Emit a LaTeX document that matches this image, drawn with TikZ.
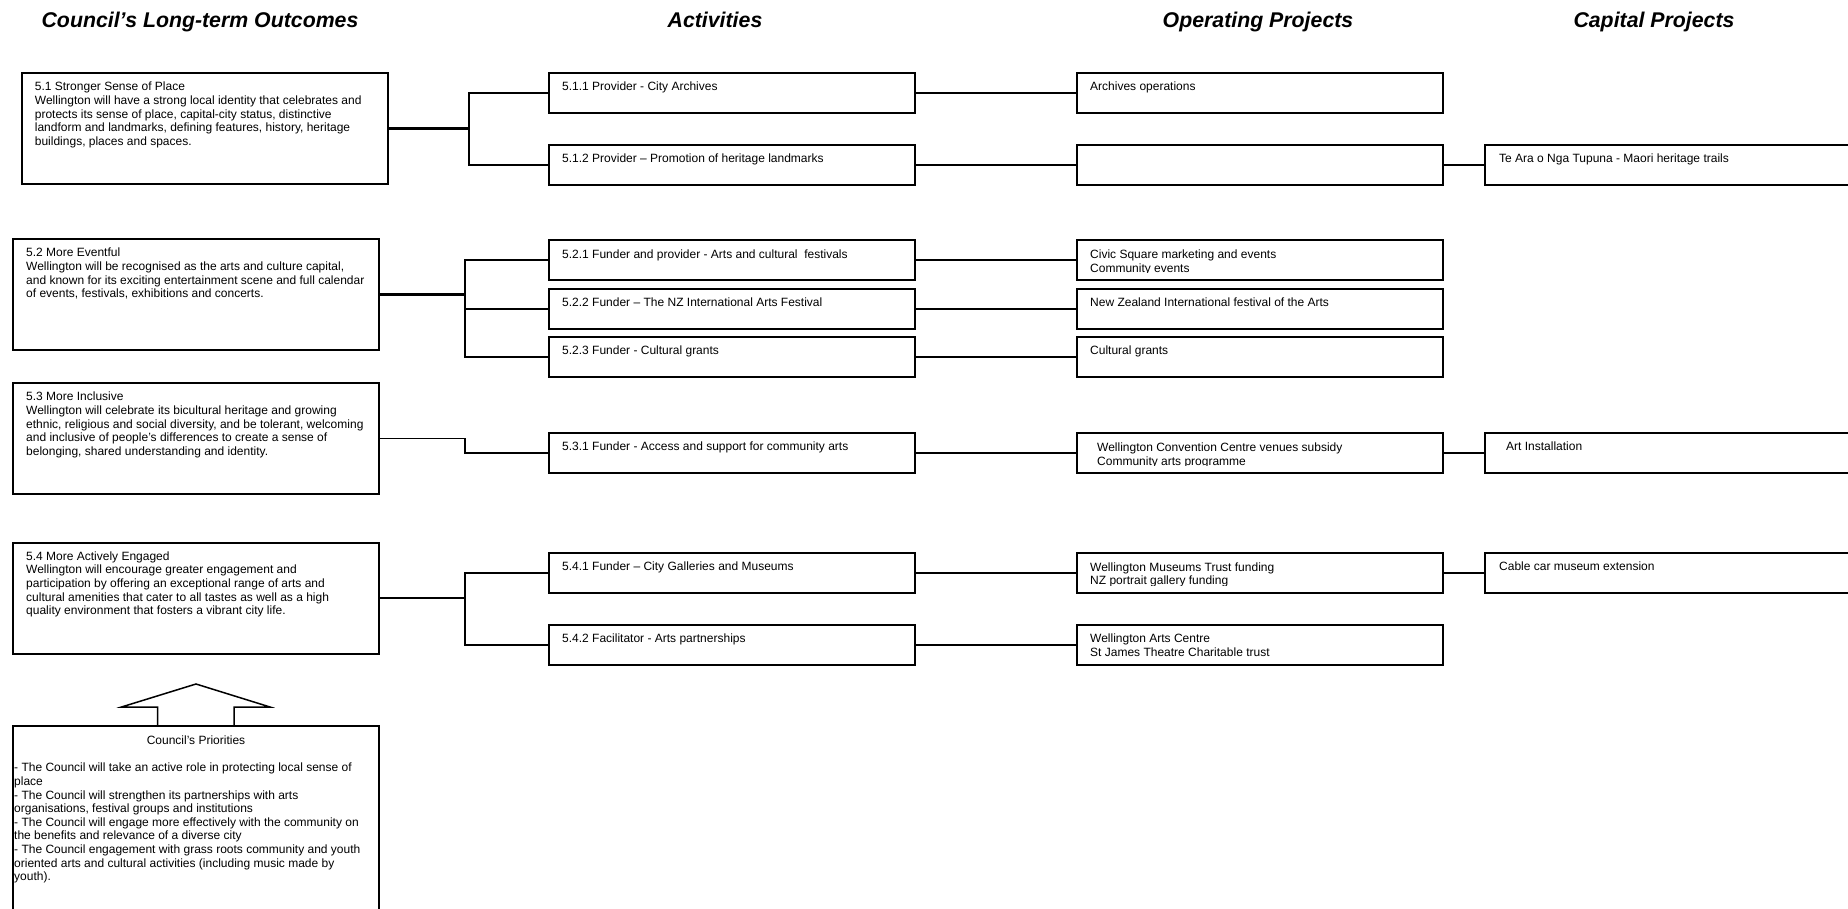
\documentclass[tikz,border=0pt]{standalone}
\usepackage{fontspec}
\setmainfont{Liberation Sans}

\begin{document}
\begin{tikzpicture}[x=1pt,y=1pt,
  box/.style={draw, line width=2pt, minimum width=366pt, minimum height=40pt, inner sep=0pt, anchor=north west},
  bigbox/.style={box, minimum height=111pt},
  txt/.style={anchor=north west, align=left, inner sep=0pt, font=\fontsize{12}{13.6}\selectfont},
  head/.style={anchor=base, inner sep=0pt, font=\fontsize{21.3}{25}\selectfont\bfseries\itshape},
  link/.style={line width=2pt},
  stub/.style={line width=3pt},
  thinlink/.style={line width=1.5pt}]
\useasboundingbox (0,0) rectangle (1848,-909);
\clip (0,0) rectangle (1848,-909);

\node[head] (h1) at (200,-27.5) {Council's Long-term Outcomes};
\node[head] (h2) at (715,-27.5) {Activities};
\node[head] (h3) at (1258,-27.5) {Operating Projects};
\node[head] (h4) at (1654,-27.5) {Capital Projects};

\node[bigbox] (o51) at (20.7,-72) {};
\node[txt] (o51t) at ([shift={(14pt,-10pt)}]o51.north west) {5.1 Stronger Sense of Place\\Wellington will have a strong local identity that celebrates and\\protects its sense of place, capital-city status, distinctive\\landform and landmarks, defining features, history, heritage\\buildings, places and spaces.};
\node[bigbox] (o52) at (12,-238) {};
\node[txt] (o52t) at ([shift={(14pt,-10pt)}]o52.north west) {5.2 More Eventful\\Wellington will be recognised as the arts and culture capital,\\and known for its exciting entertainment scene and full calendar\\of events, festivals, exhibitions and concerts.};
\node[bigbox] (o53) at (12,-382) {};
\node[txt] (o53t) at ([shift={(14pt,-10pt)}]o53.north west) {5.3 More Inclusive\\Wellington will celebrate its bicultural heritage and growing\\ethnic, religious and social diversity, and be tolerant, welcoming\\and inclusive of people's differences to create a sense of\\belonging, shared understanding and identity.};
\node[bigbox] (o54) at (12,-541.5) {};
\node[txt] (o54t) at ([shift={(14pt,-10pt)}]o54.north west) {5.4 More Actively Engaged\\Wellington will encourage greater engagement and\\participation by offering an exceptional range of arts and\\cultural amenities that cater to all tastes as well as a high\\quality environment that fosters a vibrant city life.};

\node[box, minimum height=240pt] (pri) at (12,-725) {};
\node[txt, anchor=north] (prit) at ([yshift=-10.5pt]pri.north) {Council's Priorities};
\node[txt] (pril) at (14,-763) {- The Council will take an active role in protecting local sense of\\place\\- The Council will strengthen its partnerships with arts\\organisations, festival groups and institutions\\- The Council will engage more effectively with the community on\\the benefits and relevance of a diverse city\\- The Council engagement with grass roots community and youth\\oriented arts and cultural activities (including music made by\\youth).};
\draw[thinlink] ([xshift=-38.5pt]pri.north) -- ++(0,18) -- ++(-36,0) -- ([yshift=41pt]pri.north) -- ++(74,-23) -- ++(-36,0) -- ++(0,-18);

\node[box] (a511) at (548,-72) {};
\node[txt] (a511t) at ([shift={(14pt,-10pt)}]a511.north west) {5.1.1 Provider - City Archives};
\node[box] (a512) at (548,-144) {};
\node[txt] (a512t) at ([shift={(14pt,-10pt)}]a512.north west) {5.1.2 Provider – Promotion of heritage landmarks};
\node[box] (a521) at (548,-239.5) {};
\node[txt] (a521t) at ([shift={(14pt,-10pt)}]a521.north west) {5.2.1 Funder and provider - Arts and cultural\ \ festivals};
\node[box] (a522) at (548,-287.7) {};
\node[txt] (a522t) at ([shift={(14pt,-10pt)}]a522.north west) {5.2.2 Funder – The NZ International Arts Festival};
\node[box] (a523) at (548,-336) {};
\node[txt] (a523t) at ([shift={(14pt,-10pt)}]a523.north west) {5.2.3 Funder - Cultural grants};
\node[box] (a531) at (548,-432) {};
\node[txt] (a531t) at ([shift={(14pt,-10pt)}]a531.north west) {5.3.1 Funder - Access and support for community arts};
\node[box] (a541) at (548,-552) {};
\node[txt] (a541t) at ([shift={(14pt,-10pt)}]a541.north west) {5.4.1 Funder – City Galleries and Museums};
\node[box] (a542) at (548,-624) {};
\node[txt] (a542t) at ([shift={(14pt,-10pt)}]a542.north west) {5.4.2 Facilitator - Arts partnerships};

\node[box] (p511) at (1076,-72) {};
\node[txt] (p511t) at ([shift={(14pt,-10pt)}]p511.north west) {Archives operations};
\node[box] (p512) at (1076,-144) {};
\node[box] (p521) at (1076,-239.5) {};
\begin{scope}
\clip (p521.north west) rectangle ([yshift=8.5pt]p521.south east);
\node[txt] (p521t) at ([shift={(14pt,-10.5pt)}]p521.north west) {Civic Square marketing and events\\Community events};
\end{scope}
\node[box] (p522) at (1076,-287.7) {};
\node[txt] (p522t) at ([shift={(14pt,-10pt)}]p522.north west) {New Zealand International festival of the Arts};
\node[box] (p523) at (1076,-336) {};
\node[txt] (p523t) at ([shift={(14pt,-10pt)}]p523.north west) {Cultural grants};
\node[box] (p531) at (1076,-432) {};
\begin{scope}
\clip (p531.north west) rectangle ([yshift=8.5pt]p531.south east);
\node[txt] (p531t) at ([shift={(21pt,-11pt)}]p531.north west) {Wellington Convention Centre venues subsidy\\Community arts programme};
\end{scope}
\node[box] (p541) at (1076,-552) {};
\begin{scope}
\clip (p541.north west) rectangle ([yshift=8.5pt]p541.south east);
\node[txt] (p541t) at ([shift={(14pt,-10.5pt)}]p541.north west) {Wellington Museums Trust funding\\NZ portrait gallery funding};
\end{scope}
\node[box] (p542) at (1076,-624) {};
\node[txt] (p542t) at ([shift={(14pt,-10pt)}]p542.north west) {Wellington Arts Centre\\St James Theatre Charitable trust};

\node[box] (c512) at (1484,-144) {};
\node[txt] (c512t) at ([shift={(15pt,-10pt)}]c512.north west) {Te Ara o Nga Tupuna - Maori heritage trails};
\node[box] (c531) at (1484,-432) {};
\node[txt] (c531t) at ([shift={(22pt,-10pt)}]c531.north west) {Art Installation};
\node[box] (c541) at (1484,-552) {};
\node[txt] (c541t) at ([shift={(15pt,-10pt)}]c541.north west) {Cable car museum extension};

\draw[stub] (o51.east) -- ++(80,0) coordinate (b51);
\draw[link] (a511.west) -| (b51) |- (a512.west);
\draw[stub] (o52.east) -- ++(85,0) coordinate (b52);
\draw[link] (a521.west) -| (b52) |- (a523.west);
\draw[link] (b52 |- a522.west) -- (a522.west);
\draw[thinlink] (o53.east) -- ++(85,0) |- (a531.west);
\draw[link] (o54.east) -- ++(85,0) coordinate (b54);
\draw[link] (a541.west) -| (b54) |- (a542.west);

\draw[link] (a511.east) -- (p511.west);
\draw[link] (a512.east) -- (p512.west);
\draw[link] (a521.east) -- (p521.west);
\draw[link] (a522.east) -- (p522.west);
\draw[link] (a523.east) -- (p523.west);
\draw[link] (a531.east) -- (p531.west);
\draw[link] (a541.east) -- (p541.west);
\draw[link] (a542.east) -- (p542.west);

\draw[link] (p512.east) -- (c512.west);
\draw[link] (p531.east) -- (c531.west);
\draw[link] (p541.east) -- (c541.west);
\end{tikzpicture}
\end{document}
